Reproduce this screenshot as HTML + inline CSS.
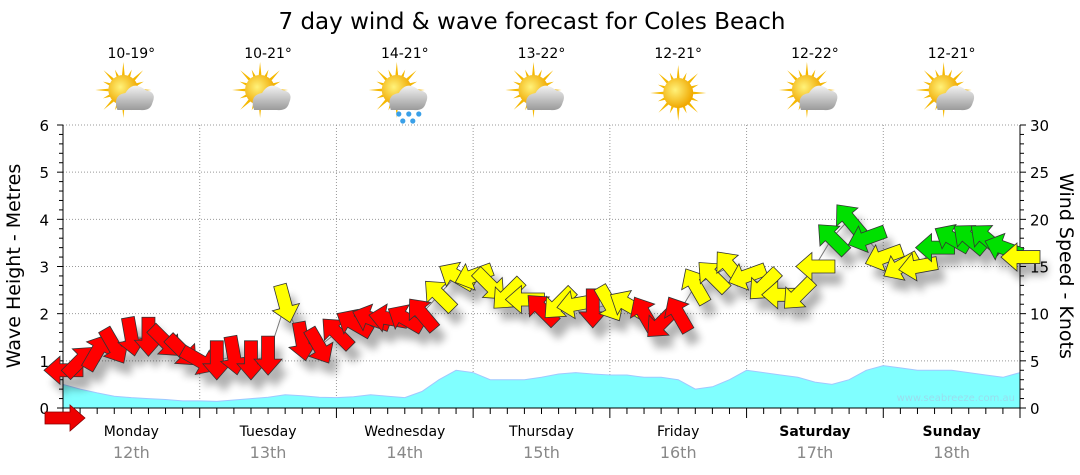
<!DOCTYPE html>
<html><head><meta charset="utf-8">
<style>
html,body{margin:0;padding:0;background:#fff;}
svg{display:block;font-family:"DejaVu Sans","Liberation Sans",sans-serif;}
</style></head>
<body>
<svg id="chart" width="1080" height="475" viewBox="0 0 1080 475" xmlns="http://www.w3.org/2000/svg">
<defs>
<filter id="sh" x="-50%" y="-50%" width="200%" height="200%"><feGaussianBlur stdDeviation="4"/></filter>
<radialGradient id="sunG" cx="0.4" cy="0.4" r="0.6"><stop offset="0" stop-color="#fff27a"/><stop offset="1" stop-color="#f0a800"/></radialGradient>
<linearGradient id="cloudG" x1="0" y1="0" x2="0" y2="1"><stop offset="0" stop-color="#f2f2f2"/><stop offset="1" stop-color="#9a9a9a"/></linearGradient>
</defs>
<text x="532" y="29" text-anchor="middle" font-size="23" fill="#000">7 day wind &amp; wave forecast for Coles Beach</text>
<g id="grid"></g>
<g id="waves"></g>
<g id="icons"></g>
<g id="axes"></g>
<g id="shadows" filter="url(#sh)" opacity="0.3"></g>
<path id="windline" fill="none" stroke="#777" stroke-width="1"/>
<g id="arrows"></g>
<text x="1015" y="401" text-anchor="end" font-size="10" fill="#9de">www.seabreeze.com.au</text>
<g><polygon points="45,412 70,412 70,405 85,418 70,431 70,424 45,424" fill="#e00" stroke="#800" stroke-width="0.8"/></g>
<text transform="translate(20,266) rotate(-90)" text-anchor="middle" font-size="19">Wave Height - Metres</text>
<text transform="translate(1060,266) rotate(90)" text-anchor="middle" font-size="19">Wind Speed - Knots</text>
</svg>
<script>
const days=["Monday","Tuesday","Wednesday","Thursday","Friday","Saturday","Sunday"];
const dates=["12th","13th","14th","15th","16th","17th","18th"];
const temps=["10-19°","10-21°","14-21°","13-22°","12-21°","12-22°","12-21°"];
const icons=["cloud","cloud","rain","cloud","sun","cloud","cloud"];
const waveHeights=[0.5,0.4,0.32,0.25,0.22,0.2,0.18,0.15,0.15,0.14,0.17,0.2,0.23,0.28,0.26,0.23,0.22,0.24,0.28,0.25,0.22,0.35,0.6,0.8,0.75,0.6,0.6,0.6,0.65,0.72,0.75,0.72,0.7,0.7,0.65,0.65,0.6,0.4,0.45,0.6,0.8,0.75,0.7,0.65,0.55,0.5,0.6,0.8,0.9,0.85,0.8,0.8,0.8,0.75,0.7,0.65,0.75];
const windSpeeds=[4,5,6,6.5,7.5,7.5,7,6, 5,5,5.5,5,5.5,11,7,6.5, 8,9,9.5,9.5,9.5,10,12,14, 14,13,12,11.5,10.5,11,11,10.5, 11,11,10,9,10,13,14,15, 14,13,12,12,15,18,20,18, 16,15,15,17,18,18,18,17,16];
const windDirs=[180,-45,-60,60,80,90,45,45, 30,90,80,90,90,75,80,60, -135,-150,-160,-170,-150,-130,-135,-150, 160,45,135,180,-135,135,170,90, 60,-150,-120,135,-120,-120,-135,-130, 160,135,180,135,180,-135,-130,160, 160,150,170,180,-150,-140,-140,-160,180];
const leftTicks=[0,1,2,3,4,5,6];
const rightTicks=[0,5,10,15,20,25,30];

const NS="http://www.w3.org/2000/svg";
const X0=63,X1=1020,Y0=408,Y1=125;
const dayW=(X1-X0)/7;
const xIdx=i=>X0+i*(X1-X0)/56;
const yM=m=>Y0-(m/6)*(Y0-Y1);
const yK=k=>Y0-(k/30)*(Y0-Y1);
function mk(tag,attrs,parent,text){const e=document.createElementNS(NS,tag);for(const k in attrs)e.setAttribute(k,attrs[k]);if(text!==undefined)e.textContent=text;parent.appendChild(e);return e;}

const grid=document.getElementById('grid');
leftTicks.forEach(t=>{if(t>0)mk('line',{x1:X0,x2:X1,y1:yM(t),y2:yM(t),stroke:'#999','stroke-dasharray':'1,2'},grid);});
for(let d=1;d<7;d++){const x=X0+d*dayW;mk('line',{x1:x,x2:x,y1:Y1,y2:Y0,stroke:'#999','stroke-dasharray':'1,2'},grid);}

const wg=document.getElementById('waves');
let p=`M${X0},${Y0}`;waveHeights.forEach((w,i)=>{p+=` L${xIdx(i).toFixed(1)},${yM(w).toFixed(1)}`;});p+=` L${X1},${Y0} Z`;
const wa=mk('path',{d:p,fill:'#80ffff',stroke:'#a0c8ff','stroke-width':1},wg);



const ax=document.getElementById('axes');
mk('line',{x1:X0,x2:X0,y1:Y1,y2:Y0,stroke:'#000'},ax);
mk('line',{x1:X1,x2:X1,y1:Y1,y2:Y0,stroke:'#000'},ax);
mk('line',{x1:X0,x2:X1,y1:Y0,y2:Y0,stroke:'#000'},ax);
for(let m=0;m<=6.001;m+=0.2){const y=yM(m);const maj=Math.abs(m-Math.round(m))<0.01;mk('line',{x1:X0-(maj?6:4),x2:X0,y1:y,y2:y,stroke:'#000'},ax);}
for(let k=0;k<=30;k++){const y=yK(k);mk('line',{x1:X1,x2:X1+(k%5==0?6:4),y1:y,y2:y,stroke:'#000'},ax);}
leftTicks.forEach(t=>{const e=mk('text',{x:X0-14,y:yM(t)+6,'text-anchor':'end','font-size':15},ax,String(t));});
rightTicks.forEach(t=>{const e=mk('text',{x:X1+10,y:yK(t)+6,'font-size':15},ax,String(t));});
for(let i=0;i<=56;i++){const x=xIdx(i);mk('line',{x1:x,x2:x,y1:Y0,y2:Y0+(i%8==0?10:6),stroke:'#000'},ax);}
days.forEach((d,i)=>{const cx=X0+(i+0.5)*dayW;const bold=i>=5;
 const a=mk('text',{x:cx,y:436,'text-anchor':'middle','font-size':14,'font-weight':bold?'bold':'normal'},ax,d);
 const b=mk('text',{x:cx,y:458,'text-anchor':'middle','font-size':16,fill:'#888'},ax,dates[i]);
});

const ic=document.getElementById('icons');
temps.forEach((t,i)=>{const cx=X0+(i+0.5)*dayW;
 const g=mk('g',{},ic);
 const tt=mk('text',{x:cx,y:58,'text-anchor':'middle','font-size':14},ic,t);
 const sx=icons[i]=='sun'?cx:cx-8,sy=icons[i]=='sun'?93:90;
 for(let r=0;r<16;r++){const an=r*Math.PI/8;const L=r%2?22:28;mk('polygon',{points:`${sx+Math.cos(an-0.12)*13},${sy+Math.sin(an-0.12)*13} ${sx+Math.cos(an)*L},${sy+Math.sin(an)*L} ${sx+Math.cos(an+0.12)*13},${sy+Math.sin(an+0.12)*13}`,fill:'#f5b800'},g);}
 mk('circle',{cx:sx,cy:sy,r:15,fill:'url(#sunG)'},g);
 if(icons[i]!='sun'){mk('path',{d:`M${cx-14},${sy+20} Q${cx-19},${sy+5} ${cx-6},${sy+3} Q${cx+2},${sy-10} ${cx+14},${sy} Q${cx+26},${sy+2} ${cx+21},${sy+13} Q${cx+19},${sy+21} ${cx+9},${sy+20} Z`,fill:'url(#cloudG)'},g);}
 if(icons[i]=='rain'){[[-6,24],[4,24],[14,24],[-2,31],[8,31]].forEach(o=>mk('circle',{cx:cx+o[0],cy:sy+o[1],r:2.6,fill:'#3aa0e8'},g));}
});

const sg=document.getElementById('shadows'),ag=document.getElementById('arrows');
const shape="-20,-6.5 3,-6.5 3,-14 19,0 3,14 3,6.5 -20,6.5";
let lp='';
windSpeeds.forEach((s,i)=>{const x=xIdx(i),y=yK(s);lp+=(i?' L':'M')+x.toFixed(1)+','+y.toFixed(1);
 mk('polygon',{points:shape,transform:`translate(${x+7},${y+12}) rotate(${windDirs[i]})`,fill:'#000'},sg);
});
document.getElementById('windline').setAttribute('d',lp);
windSpeeds.forEach((s,i)=>{const x=xIdx(i),y=yK(s);
 const col=s<10.8?'#ff0000':(s<17?'#ffff00':'#00e000');
 const a=mk('polygon',{points:shape,transform:`translate(${x},${y}) rotate(${windDirs[i]})`,fill:col,stroke:'#333','stroke-width':0.8},ag);
 
 
});
</script>
</body></html>
